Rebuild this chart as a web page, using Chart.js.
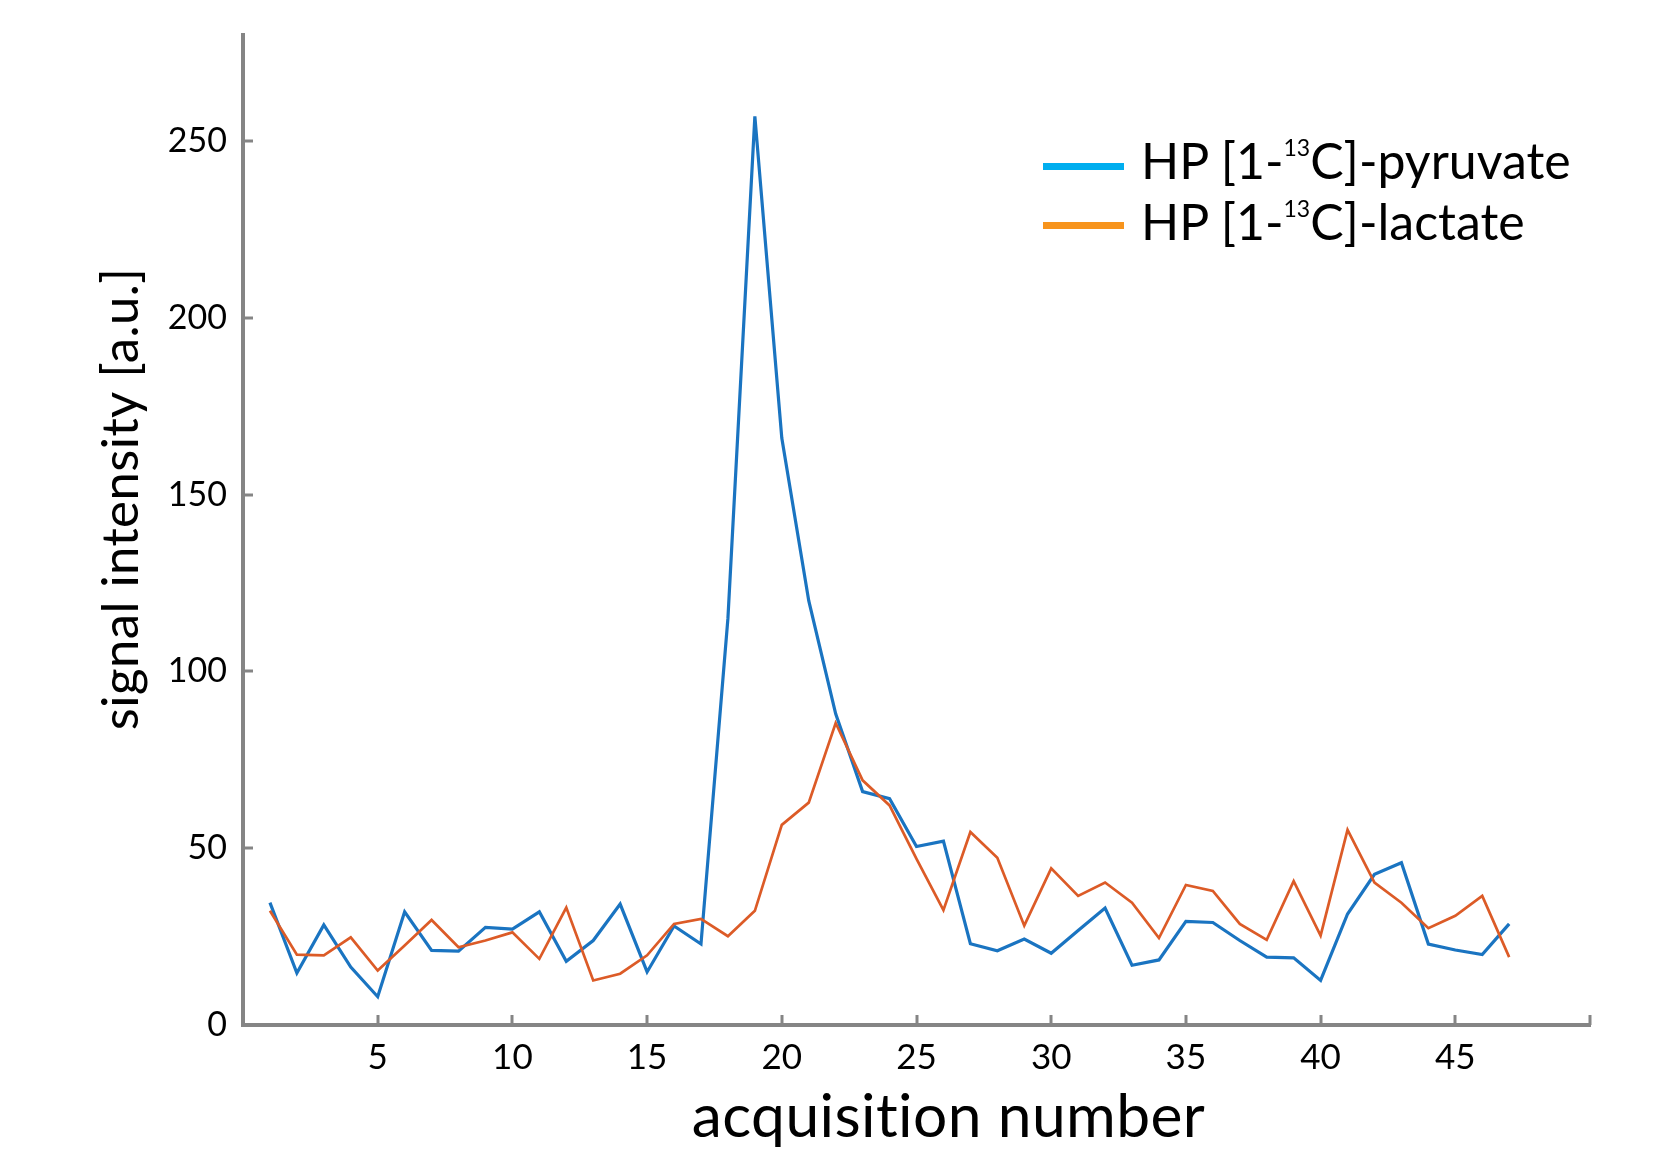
<!DOCTYPE html>
<html>
<head>
<meta charset="utf-8">
<script src="https://cdn.jsdelivr.net/npm/chart.js@4.4.1/dist/chart.umd.min.js"></script>
<style>
  html, body { margin: 0; padding: 0; background: #ffffff; }
  #wrap { position: relative; width: 1662px; height: 1156px; }
  #c { position: absolute; left: 0; top: 0; }
  .leg-row { position: absolute; left: 1043px; height: 60px; white-space: nowrap;
             font-family: Lato, "Open Sans", sans-serif; font-size: 50px; line-height: 60px; color: #000; }
  .leg-swatch { position: absolute; left: 0; width: 81px; height: 7px; }
  .leg-text { position: absolute; left: 98px; top: 0; }
  .leg-text sup { font-size: 23px; vertical-align: baseline; position: relative; top: -23px; }
</style>
</head>
<body>
<div id="wrap">
  <canvas id="c" width="1662" height="1156"></canvas>
  <div class="leg-row" style="top:130px;">
    <div class="leg-swatch" style="top:33px; background:#00aeef;"></div>
    <div class="leg-text">HP [1-<sup>13</sup>C]-pyruvate</div>
  </div>
  <div class="leg-row" style="top:191px;">
    <div class="leg-swatch" style="top:31px; background:#f7941d;"></div>
    <div class="leg-text">HP [1-<sup>13</sup>C]-lactate</div>
  </div>
</div>
<script>
const acquisitions = [1,2,3,4,5,6,7,8,9,10,11,12,13,14,15,16,17,18,19,20,21,22,23,24,25,26,27,28,29,30,31,32,33,34,35,36,37,38,39,40,41,42,43,44,45,46,47];
const pyruvate = [34.6,14.7,28.3,16.4,8.0,32.0,21.1,20.9,27.6,27.1,32.0,18.0,23.9,34.2,15.0,28.0,22.9,115,257,166,120,88,66,64,50.5,52,23,21,24.3,20.3,26.7,33.1,16.9,18.4,29.3,29.0,23.9,19.2,19.0,12.6,31.4,42.6,45.9,22.9,21.2,19.9,28.6];
const lactate = [32.3,19.9,19.7,24.8,15.4,22.5,29.7,22.0,23.9,26.2,18.7,33.2,12.6,14.5,19.7,28.6,30.0,25.1,32.3,56.6,62.9,85.4,69.2,62.1,47,32.5,54.6,47.3,28.1,44.3,36.5,40.3,34.6,24.6,39.6,37.9,28.6,24.1,40.7,25.3,55.2,40.3,34.6,27.4,30.9,36.5,19.2];
const seriesNames = ["HP [1-13C]-pyruvate", "HP [1-13C]-lactate"];
const xTitle = 'acquisition number';
const yTitle = 'signal intensity [a.u.]';
const xTickStep = 5;
const yTickStep = 50;

const toPoints = (vals) => acquisitions.map((a, i) => ({ x: a, y: vals[i] }));

const axisColor = '#858585';

const inwardTicks = {
  id: 'inwardTicks',
  beforeDatasetsDraw(chart) {
    const { ctx, chartArea, scales: { x, y } } = chart;
    ctx.save();
    ctx.strokeStyle = axisColor;
    ctx.lineWidth = 3;
    x.ticks.forEach(t => {
      if (t.value <= x.min) return;
      const px = Math.round(x.getPixelForValue(t.value));
      ctx.beginPath();
      ctx.moveTo(px, chartArea.bottom);
      ctx.lineTo(px, chartArea.bottom - 10);
      ctx.stroke();
    });
    y.ticks.forEach(t => {
      if (t.value <= y.min) return;
      const py = Math.round(y.getPixelForValue(t.value));
      ctx.beginPath();
      ctx.moveTo(chartArea.left, py);
      ctx.lineTo(chartArea.left + 10, py);
      ctx.stroke();
    });
    ctx.restore();
  }
};

// axis titles placed as in the original figure (slightly off-centre)
const axisTitles = {
  id: 'axisTitles',
  afterDraw(chart) {
    const { ctx, chartArea } = chart;
    ctx.save();
    ctx.fillStyle = '#000';
    try { ctx.textRendering = 'optimizeSpeed'; } catch (e) {}
    try { ctx.letterSpacing = '0.4px'; } catch (e) {}
    ctx.font = '60.5px Lato';
    ctx.textAlign = 'center';
    ctx.textBaseline = 'alphabetic';
    ctx.fillText(xTitle, (chartArea.left + chartArea.right) / 2 + 32, chartArea.bottom + 112);
    ctx.translate(122, (chartArea.top + chartArea.bottom) / 2 - 31);
    ctx.rotate(-Math.PI / 2);
    ctx.font = '51px Lato';
    ctx.textBaseline = 'middle';
    ctx.fillText(yTitle, 0, 0);
    ctx.restore();
  }
};

new Chart(document.getElementById('c'), {
  type: 'line',
  data: {
    datasets: [
      { label: seriesNames[0], data: toPoints(pyruvate), borderColor: '#1a74c1', borderWidth: 3.2,
        pointRadius: 0, tension: 0, fill: false, order: 1 },
      { label: seriesNames[1], data: toPoints(lactate), borderColor: '#dc5b27', borderWidth: 2.7,
        pointRadius: 0, tension: 0, fill: false, order: 0 }
    ]
  },
  options: {
    responsive: false,
    animation: false,
    layout: { padding: { top: 35, right: 72, left: 0, bottom: 0 } },
    plugins: { legend: { display: false }, tooltip: { enabled: false } },
    scales: {
      x: {
        type: 'linear', min: 0, max: 50,
        grid: { display: false },
        border: { display: true, color: axisColor, width: 4 },
        ticks: {
          stepSize: xTickStep, color: '#000', padding: 4,
          font: { family: 'Lato', size: 35 },
          maxRotation: 0,
          callback: (v) => (v > 0 && v < 50) ? String(v) : ''
        },
        title: { display: false, text: xTitle },
        afterFit: (s) => { s.height = 131; }
      },
      y: {
        type: 'linear', min: 0, max: 280,
        grid: { display: false },
        border: { display: true, color: axisColor, width: 4 },
        ticks: {
          stepSize: yTickStep, includeBounds: false, color: '#000', padding: 8,
          font: { family: 'Lato', size: 34 }
        },
        title: { display: false, text: yTitle },
        afterFit: (s) => { s.width = 243; }
      }
    }
  },
  plugins: [inwardTicks, axisTitles]
});
</script>
</body>
</html>
